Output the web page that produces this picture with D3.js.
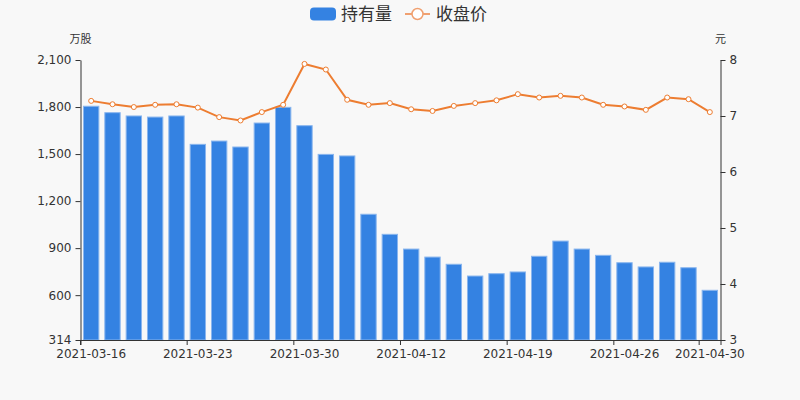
<!DOCTYPE html>
<html>
<head>
<meta charset="utf-8">
<script src="https://cdn.jsdelivr.net/npm/d3@7/dist/d3.min.js"></script>
<style>
  body { margin: 0; background: #f8f8f8; }
  svg, .axis { font-family: "DejaVu Sans", "Noto Sans CJK SC", sans-serif; }
  .axis text { fill: #333; font-size: 12px; }
  .axis path, .axis line { stroke: #333; }
</style>
</head>
<body>
<div id="chart"></div>
<script>
// trading days shown on the category axis
const dates = [
  '2021-03-16', '2021-03-17', '2021-03-18', '2021-03-19', '2021-03-22',
  '2021-03-23', '2021-03-24', '2021-03-25', '2021-03-26', '2021-03-29',
  '2021-03-30', '2021-03-31', '2021-04-01', '2021-04-02', '2021-04-09',
  '2021-04-12', '2021-04-13', '2021-04-14', '2021-04-15', '2021-04-16',
  '2021-04-19', '2021-04-20', '2021-04-21', '2021-04-22', '2021-04-23',
  '2021-04-26', '2021-04-27', '2021-04-28', '2021-04-29', '2021-04-30'
];
// 持有量 (万股)
const holdings = [
  1805, 1764, 1743, 1736, 1743, 1562, 1583, 1545, 1698, 1798,
  1681, 1498, 1488, 1116, 988, 894, 843, 797, 722, 737,
  748, 848, 945, 894, 854, 807, 780, 810, 775, 631
];
// 收盘价 (元)
const closePrice = [
  7.27, 7.21, 7.16, 7.20, 7.21, 7.15, 6.98, 6.92, 7.07, 7.20,
  7.93, 7.83, 7.29, 7.20, 7.23, 7.12, 7.09, 7.18, 7.23, 7.28,
  7.39, 7.33, 7.36, 7.33, 7.20, 7.17, 7.11, 7.33, 7.30, 7.07
];
const leftTicks = [314, 600, 900, 1200, 1500, 1800, 2100];
const rightTicks = [3, 4, 5, 6, 7, 8];
const labelIdx = [0, 5, 10, 15, 20, 25, 29];

const W = 800, H = 400;
const plot = { left: 80.5, right: 720.5, top: 60, bottom: 340 };

const svg = d3.select('#chart').append('svg')
  .attr('width', W)
  .attr('height', H);

svg.append('rect').attr('width', W).attr('height', H).attr('fill', '#f8f8f8');

const x = d3.scaleBand()
  .domain(dates)
  .range([plot.left, plot.right])
  .padding(0);
const yLeft = d3.scaleLinear()
  .domain([314, 2100])
  .range([plot.bottom, plot.top]);
const yRight = d3.scaleLinear()
  .domain([3, 8])
  .range([plot.bottom, plot.top]);

const barW = x.bandwidth() * 0.72;

// bars
svg.append('g')
  .selectAll('rect')
  .data(holdings)
  .join('rect')
  .attr('x', (d, i) => x(dates[i]) + (x.bandwidth() - barW) / 2)
  .attr('y', d => yLeft(d))
  .attr('width', barW)
  .attr('height', d => plot.bottom - yLeft(d))
  .attr('fill', '#3482e2')
  .attr('stroke', '#8ab6ee')
  .attr('stroke-width', 1);

// price line
const line = d3.line()
  .x((d, i) => x(dates[i]) + x.bandwidth() / 2)
  .y(d => yRight(d));
svg.append('path')
  .datum(closePrice)
  .attr('d', line)
  .attr('fill', 'none')
  .attr('stroke', '#ed7d31')
  .attr('stroke-width', 2);
svg.append('g')
  .selectAll('circle')
  .data(closePrice)
  .join('circle')
  .attr('cx', (d, i) => x(dates[i]) + x.bandwidth() / 2)
  .attr('cy', d => yRight(d))
  .attr('r', 2.5)
  .attr('fill', '#fff')
  .attr('stroke', '#ed7d31')
  .attr('stroke-width', 1);

// left axis
svg.append('g')
  .attr('class', 'axis')
  .attr('transform', `translate(${plot.left},0)`)
  .call(d3.axisLeft(yLeft).tickValues(leftTicks).tickFormat(d3.format(',')).tickSize(5).tickSizeOuter(0).tickPadding(4));

// right axis
svg.append('g')
  .attr('class', 'axis')
  .attr('transform', `translate(${plot.right},0)`)
  .call(d3.axisRight(yRight).tickValues(rightTicks).tickFormat(d3.format('d')).tickSize(5).tickSizeOuter(0).tickPadding(4));

// bottom axis: labels at category centre, ticks at category start
const xAxis = svg.append('g')
  .attr('class', 'axis')
  .attr('transform', `translate(0,${plot.bottom})`)
  .call(d3.axisBottom(x).tickValues(labelIdx.map(i => dates[i])).tickSize(5).tickSizeOuter(5).tickPadding(4));
xAxis.selectAll('.tick line')
  .attr('x1', -x.bandwidth() / 2)
  .attr('x2', -x.bandwidth() / 2);

// unit labels
svg.append('text')
  .attr('x', plot.left)
  .attr('y', 43)
  .attr('text-anchor', 'middle')
  .attr('font-size', 11)
  .attr('fill', '#333')
  .text('万股');
svg.append('text')
  .attr('x', plot.right)
  .attr('y', 43)
  .attr('text-anchor', 'middle')
  .attr('font-size', 11)
  .attr('fill', '#333')
  .text('元');

// legend
const legend = svg.append('g').attr('font-size', 17).attr('fill', '#333');
legend.append('rect')
  .attr('x', 310).attr('y', 7.5)
  .attr('width', 26).attr('height', 13)
  .attr('rx', 4)
  .attr('fill', '#3482e2');
legend.append('text')
  .attr('x', 341).attr('y', 20)
  .text('持有量');
legend.append('line')
  .attr('x1', 405).attr('x2', 430)
  .attr('y1', 14).attr('y2', 14)
  .attr('stroke', '#f0a070').attr('stroke-width', 2);
legend.append('circle')
  .attr('cx', 417.5).attr('cy', 14).attr('r', 5.5)
  .attr('fill', '#fff').attr('stroke', '#f0a070').attr('stroke-width', 1.5);
legend.append('text')
  .attr('x', 436).attr('y', 20)
  .text('收盘价');
</script>
</body>
</html>
